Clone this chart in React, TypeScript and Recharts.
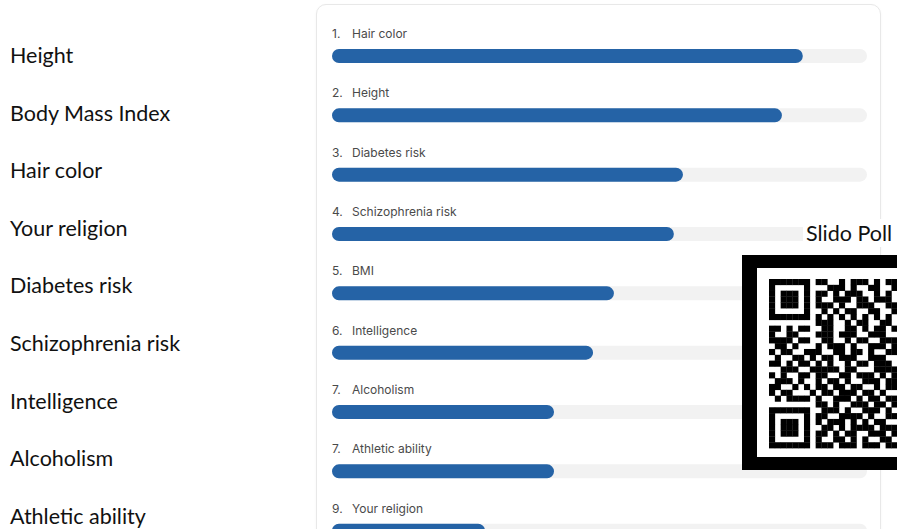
import React from "react";
import { BarChart, Bar, XAxis, YAxis, LabelList } from "recharts";

// slido ranking results (share of max score)
const RANKS = ["1.", "2.", "3.", "4.", "5.", "6.", "7.", "7.", "9."];
const ITEMS = [
  "Hair color",
  "Height",
  "Diabetes risk",
  "Schizophrenia risk",
  "BMI",
  "Intelligence",
  "Alcoholism",
  "Athletic ability",
  "Your religion",
];
const SCORES = [0.88, 0.841, 0.656, 0.639, 0.527, 0.488, 0.415, 0.415, 0.286];

// the slide's own list, left column
const SLIDE_LIST = [
  "Height",
  "Body Mass Index",
  "Hair color",
  "Your religion",
  "Diabetes risk",
  "Schizophrenia risk",
  "Intelligence",
  "Alcoholism",
  "Athletic ability",
];

// QR-like modules (only the visible part of the code)
const QR_ROWS = [
  "11111110110010111010110",
  "10000010001110100110011",
  "10111010110101110010101",
  "10111010100111011011100",
  "10111010111010011100111",
  "10000010010101100110010",
  "11111110101010101010101",
  "00000000111001011001101",
  "11010110011001101011010",
  "10011000111011100111001",
  "11110110011001011001110",
  "01101000101110100111011",
  "10110011100110110100110",
  "01001101011011100111001",
  "11010110101001011011101",
  "00111001111101100011110",
  "10100110110011011101011",
  "01110100101101001110110",
  "11001010110110110010111",
  "10110001011011101101001",
  "01011110100111010110111",
  "00000000110100111011010",
  "11111110011101001110101",
  "10000010110011110100111",
  "10111010101110101011001",
  "10111010011010111101110",
  "10111010110101100111011",
  "10000010100110101001101",
  "11111110111011101110111",
];

const BAR_COLOR = "#2563a6";
const TRACK_COLOR = "#f2f2f2";

const data = ITEMS.map((name, i) => ({
  name,
  label: `${RANKS[i]}|${name}`,
  value: SCORES[i],
}));

const ItemLabel = (props: any) => {
  const { x, y, value } = props;
  const [rank, name] = String(value).split("|");
  return (
    <g fontFamily="Inter, 'Noto Sans', sans-serif" fontSize={12} fill="#4a4a4a">
      <text x={x} y={y - 11}>{rank}</text>
      <text x={x + 20} y={y - 11}>{name}</text>
    </g>
  );
};

const QrCode = () => {
  const mod = 5.83;
  const cells: React.ReactNode[] = [];
  QR_ROWS.forEach((row, r) =>
    row.split("").forEach((c, col) => {
      if (c === "1")
        cells.push(
          <rect
            key={`${r}-${col}`}
            x={12 + col * mod}
            y={11 + r * mod}
            width={mod + 0.3}
            height={mod + 0.3}
            fill="#000"
          />
        );
    })
  );
  return (
    <svg width={155} height={215} style={{ position: "absolute", left: 742, top: 255 }}>
      <rect x={0} y={0} width={155} height={215} fill="#000" />
      <rect x={15} y={13} width={140} height={189} fill="#fff" />
      <g transform="translate(15,13)">{cells}</g>
    </svg>
  );
};

export default function App() {
  return (
    <div
      style={{
        position: "fixed",
        left: 0,
        top: 0,
        width: 897,
        height: 529,
        overflow: "hidden",
        background: "#fff",
      }}
    >
      {SLIDE_LIST.map((t, i) => (
        <div
          key={t}
          style={{
            position: "absolute",
            left: 10,
            top: 55 + i * 57.6 - 14,
            fontFamily: "Lato, sans-serif",
            fontSize: 21.5,
            lineHeight: "28px",
            color: "#111",
            whiteSpace: "nowrap",
          }}
        >
          {t}
        </div>
      ))}
      <div
        style={{
          position: "absolute",
          left: 316,
          top: 4,
          width: 563,
          height: 600,
          border: "1px solid #e8e8e8",
          borderRadius: 10,
          background: "#fff",
          boxShadow: "0 1px 3px rgba(0,0,0,0.04)",
        }}
      />
      <div style={{ position: "absolute", left: 0, top: 0 }}>
        <BarChart
          width={897}
          height={570}
          data={data}
          layout="vertical"
          margin={{ top: 26, right: 30, bottom: 10, left: 332 }}
        >
          <XAxis type="number" domain={[0, 1]} hide />
          <YAxis type="category" dataKey="name" hide />
          <Bar
            dataKey="value"
            barSize={14}
            fill={BAR_COLOR}
            radius={7}
            background={{ fill: TRACK_COLOR, radius: 7 } as any}
            isAnimationActive={false}
          >
            <LabelList dataKey="label" content={ItemLabel} />
          </Bar>
        </BarChart>
      </div>
      <div
        style={{
          position: "absolute",
          left: 803,
          top: 219,
          paddingLeft: 3,
          fontFamily: "Lato, sans-serif",
          fontSize: 21.5,
          lineHeight: "28px",
          color: "#111",
          background: "#fff",
          whiteSpace: "nowrap",
        }}
      >
        Slido Poll
      </div>
      <QrCode />
    </div>
  );
}
